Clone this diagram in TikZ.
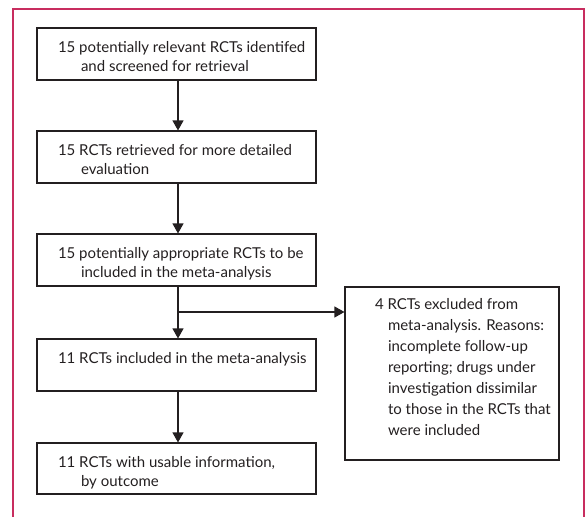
\documentclass[tikz,border=0pt]{standalone}
\usepackage{fontspec}
\setmainfont{Lato}
\usetikzlibrary{arrows.meta}
\definecolor{framecol}{RGB}{200,45,95}
\definecolor{inkcol}{RGB}{35,31,32}
\newcommand{\flowtext}[6]{% width, height, leftskip, top pad, hang indent, text
  \parbox[c][#2][t]{#1}{\vspace*{#4}\leftskip=#3\hangindent=#5\hangafter=1\noindent\strut #6}}
\tikzset{
  flowbox/.style={draw=inkcol, line width=1.1pt, inner sep=0pt, anchor=center},
  flowarrow/.style={draw=inkcol, line width=1.1pt, -{Triangle[length=10pt,width=11pt]}},
  flowline/.style={draw=inkcol, line width=1.1pt}
}
\begin{document}
\begin{tikzpicture}[x=1pt,y=-1pt]
\useasboundingbox (0,0) rectangle (587,517);
\draw[framecol, line width=1.2pt] (13,517) -- (13,9) -- (584,9) -- (584,517);
\fontsize{15}{18.5}\selectfont
\color{inkcol}
\node[flowbox] (b1) at (176.5,54) {\flowtext{279pt}{52pt}{21pt}{12pt}{23pt}{15 potentially relevant RCTs identifed\\and screened for retrieval}};
\node[flowbox] (b2) at (176.5,157) {\flowtext{279pt}{52pt}{21pt}{12pt}{23pt}{15 RCTs retrieved for more detailed\\evaluation}};
\node[flowbox] (b3) at (176.5,260) {\flowtext{279pt}{52pt}{21pt}{12pt}{23pt}{15 potentially appropriate RCTs to be\\included in the meta-analysis}};
\node[flowbox] (b4) at (176.5,365) {\flowtext{279pt}{52pt}{21pt}{12pt}{23pt}{11 RCTs included in the meta-analysis}};
\node[flowbox] (b5) at (176.5,468.5) {\flowtext{279pt}{51pt}{21pt}{12pt}{23pt}{11 RCTs with usable information,\\by outcome}};
\node[flowbox] (ex) at (452,373.5) {\flowtext{214pt}{173pt}{30pt}{10pt}{13pt}{\baselineskip=21pt 4 RCTs excluded from\\meta-analysis. Reasons:\\incomplete follow-up\\reporting; drugs under\\investigation dissimilar\\to those in the RCTs that\\were included}};
\coordinate (br) at (178,312);
\draw[flowarrow] (b1.south -| br) -- (b2.north -| br);
\draw[flowarrow] (b2.south -| br) -- (b3.north -| br);
\draw[flowarrow] (b3.south -| br) -- (b4.north -| br);
\draw[flowarrow] (b4.south -| br) -- (b5.north -| br);
\draw[flowarrow] (br) -- (ex.west |- br);
\end{tikzpicture}
\end{document}
